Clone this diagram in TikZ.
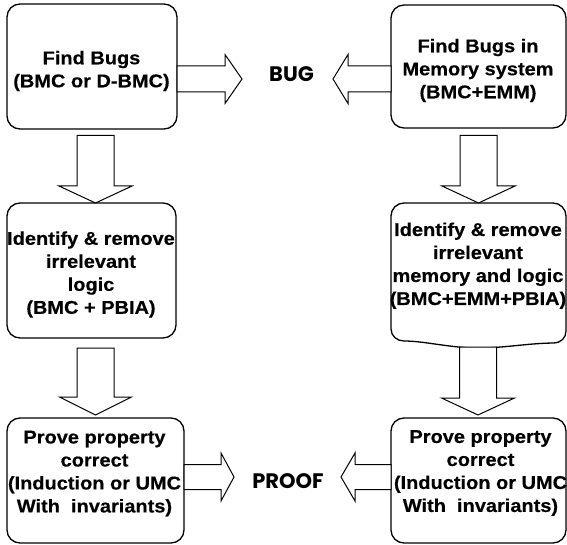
\documentclass[tikz,border=0pt]{standalone}
\usepackage{fontspec}
\newfontfamily\boxfont{Liberation Sans Bold}[FakeStretch=1.08, FakeBold=0.35]
\newfontfamily\markfont{Poppins}

% horizontal block arrow: base x, head-back x, tip x, centre y, shaft half-width, head half-width
\newcommand\hblockarrow[6]{%
  \draw[blockarrow] (#1,#4-#5) -- (#2,#4-#5) -- (#2,#4-#6) -- (#3,#4)
    -- (#2,#4+#6) -- (#2,#4+#5) -- (#1,#4+#5) -- cycle;}
% vertical block arrow: base y, head-back y, tip y, centre x, shaft half-width, head half-width
\newcommand\vblockarrow[6]{%
  \draw[blockarrow] (#4-#5,#1) -- (#4-#5,#2) -- (#4-#6,#2) -- (#4,#3)
    -- (#4+#6,#2) -- (#4+#5,#2) -- (#4+#5,#1) -- cycle;}

\tikzset{
  stepbox/.style={draw, line width=1.3pt, rounded corners=13pt, inner sep=0pt},
  boxshape/.style={line width=1.3pt},
  steptext/.style={font=\boxfont\fontsize{18.5}{23}\selectfont,
    align=center, inner sep=0pt},
  marktext/.style={font=\markfont\bfseries\fontsize{21}{25}\selectfont,
    inner sep=0pt, anchor=base},
  blockarrow/.style={draw, fill=white, line width=1pt, line join=miter},
}

\begin{document}
\begin{tikzpicture}[x=1pt, y=-1pt]
\useasboundingbox[fill=white] (0,0) rectangle (567,545);

% left column boxes
\node[stepbox, minimum width=170pt, minimum height=125pt] (b1) at (92,66.5) {};
\node[stepbox, minimum width=169pt, minimum height=135pt] (b3) at (91.5,270.5) {};
\node[stepbox, minimum width=177pt, minimum height=125pt] (b5) at (95.5,480.5) {};

% right column boxes
\node[stepbox, minimum width=175pt, minimum height=123pt] (b2) at (478.5,66.5) {};
\node[inner sep=0pt, minimum width=175pt, minimum height=143pt] (b4) at (478.5,274.5) {};
\draw[boxshape] (404,203) -- (553,203)
  .. controls (560.2,203) and (566,208.8) .. (566,216) -- (566,331)
  .. controls (566,338) and (561,343) .. (553,343)
  .. controls (525,343.5) and (505,348) .. (478,348)
  .. controls (450,348) and (425,341) .. (404,341)
  .. controls (397,341) and (391,336) .. (391,329) -- (391,216)
  .. controls (391,208.8) and (396.8,203) .. (404,203) -- cycle;
\node[stepbox, minimum width=175pt, minimum height=125pt] (b6) at (478.5,480.5) {};

% box texts
\node[steptext] (t1) at (91.5,71) {Find Bugs\\(BMC or D-BMC)};
\node[steptext] (t2) at (478,70.5) {Find Bugs in\\Memory system\\(BMC+EMM)};
\node[steptext] (t3) at (91,274.5) {Identify \& remove\\irrelevant\\logic \\(BMC + PBIA)};
\node[steptext] (t4) at (478,265.7) {Identify \& remove\\irrelevant \\memory and logic\\(BMC+EMM+PBIA)};
\node[steptext] (t5) at (94.5,473.5) {Prove property\\correct\\(Induction or UMC\\With\ \ invariants)};
\node[steptext] (t6) at (480.5,473) {Prove property\\correct\\(Induction or UMC\\With\ \ invariants)};

% outcomes
\node[marktext] (bug) at (291.5,81.7) {BUG};
\node[marktext] (proof) at (288,488) {PROOF};

% arrows towards the outcomes
\hblockarrow{177}{225}{242}{79}{13}{24.5}
\hblockarrow{391}{348}{333}{79}{13}{24.5}
\hblockarrow{184}{221}{234}{477}{12.5}{24}
\hblockarrow{391}{355}{341}{477}{12.5}{24}

% arrows down the columns
\vblockarrow{135.5}{186}{203}{95.5}{18.5}{36.5}
\vblockarrow{135.5}{186}{203}{478.5}{18.5}{36.5}
\vblockarrow{348}{397}{415}{95.5}{18.5}{36}
\vblockarrow{347}{398}{415}{478}{18.5}{36.5}
\end{tikzpicture}
\end{document}
